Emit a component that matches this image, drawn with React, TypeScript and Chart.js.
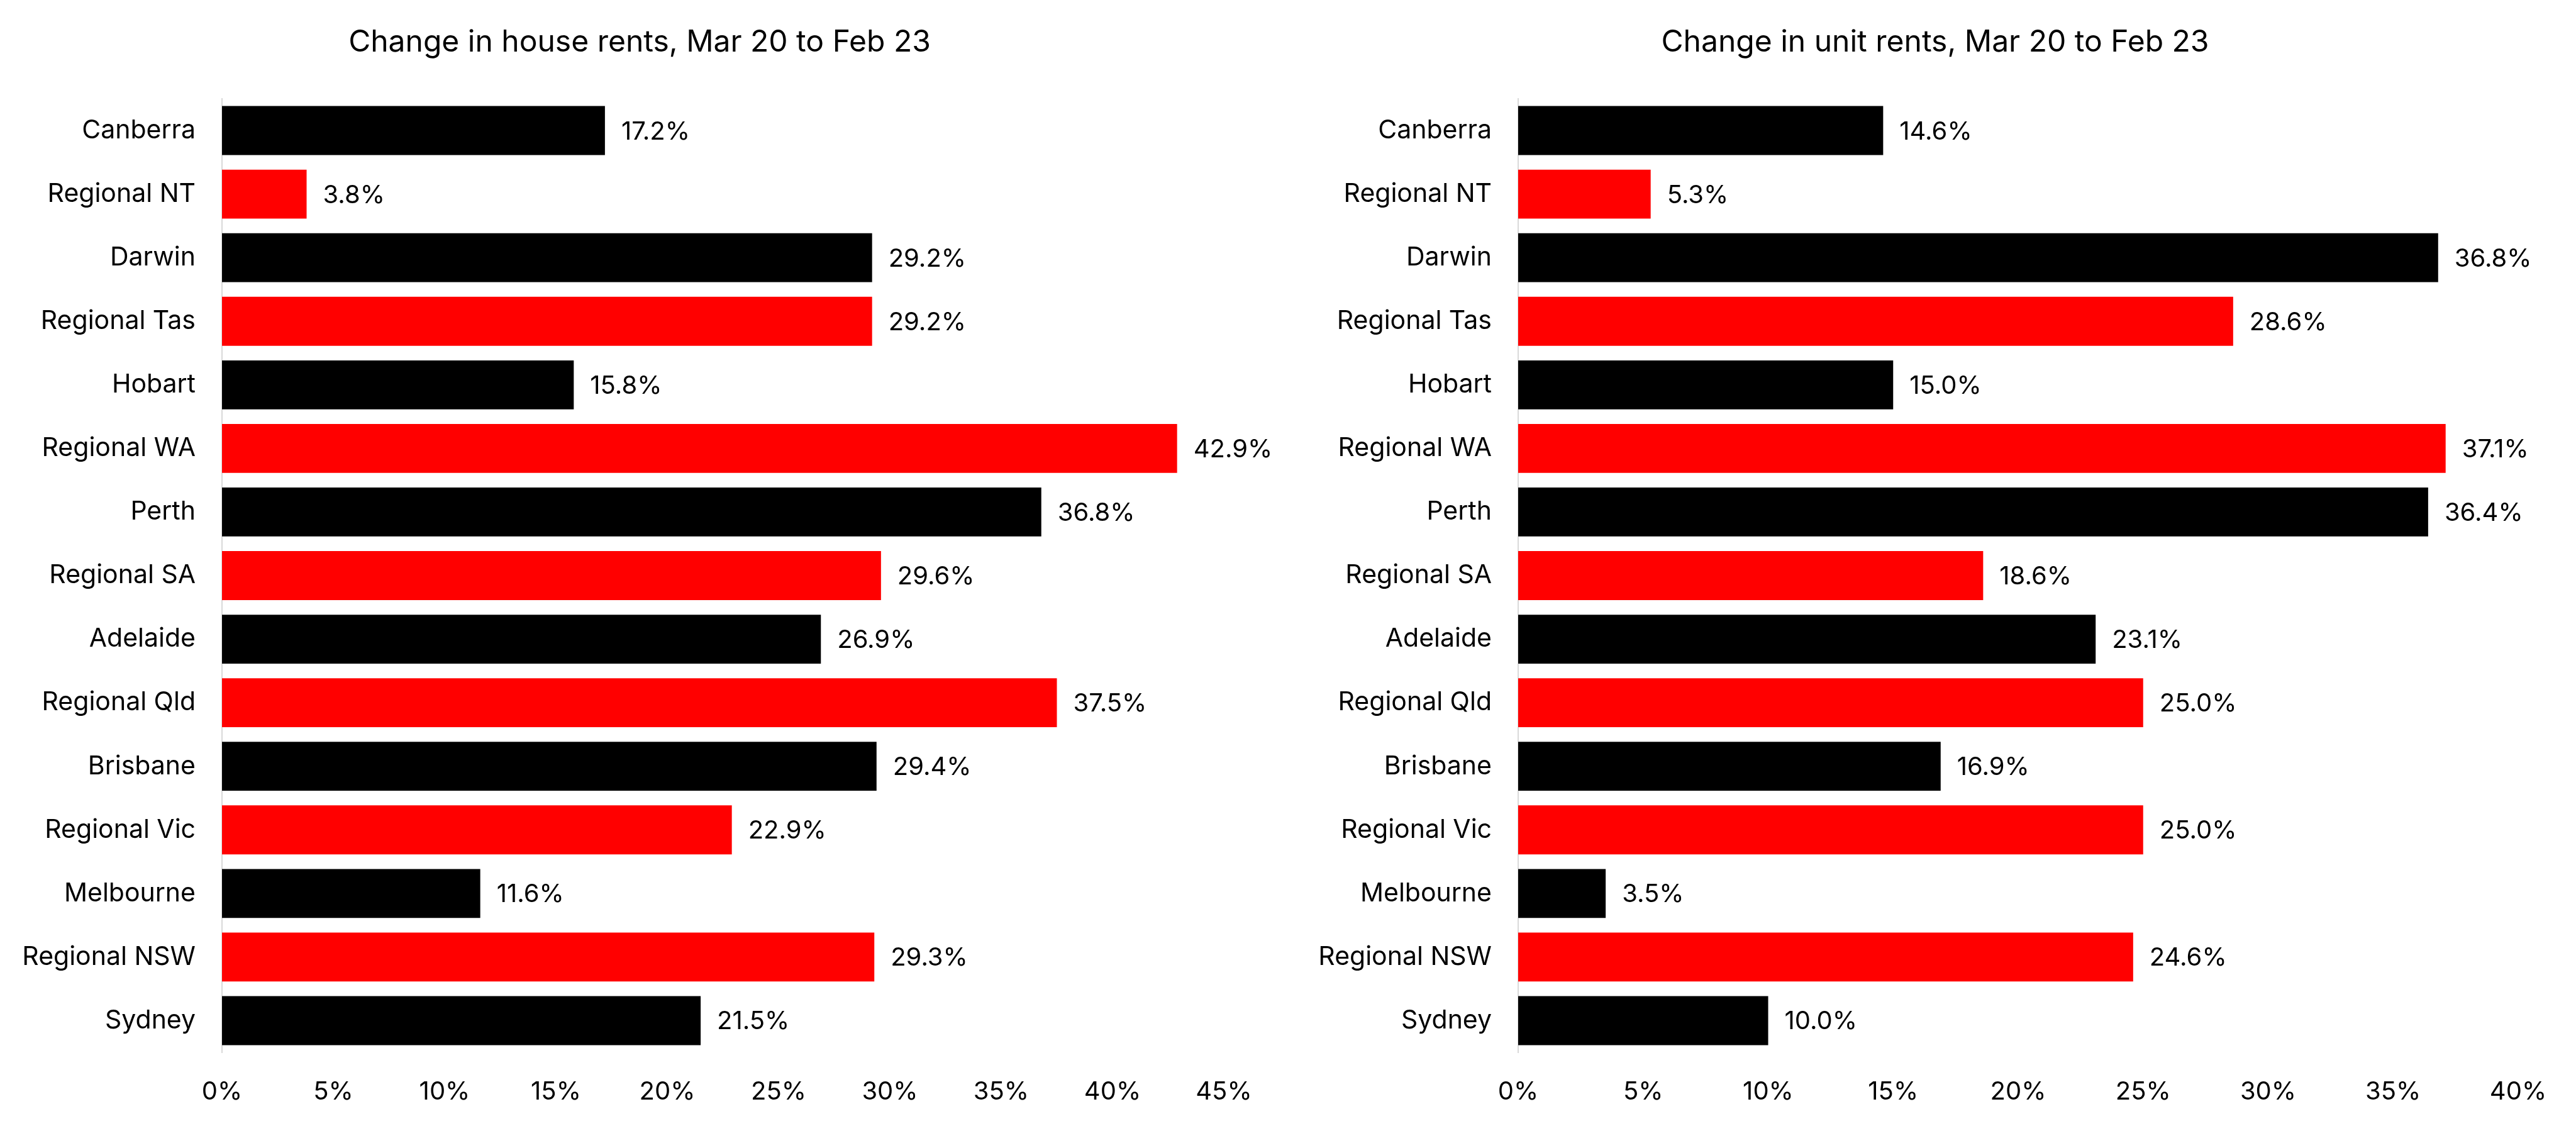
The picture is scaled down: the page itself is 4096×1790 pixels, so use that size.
import React, { useEffect, useRef } from "react";
import { Chart, registerables } from "chart.js";

Chart.register(...registerables);

const categories = [
  "Canberra",
  "Regional NT",
  "Darwin",
  "Regional Tas",
  "Hobart",
  "Regional WA",
  "Perth",
  "Regional SA",
  "Adelaide",
  "Regional Qld",
  "Brisbane",
  "Regional Vic",
  "Melbourne",
  "Regional NSW",
  "Sydney",
];

const houseValues = [17.2, 3.8, 29.2, 29.2, 15.8, 42.9, 36.8, 29.6, 26.9, 37.5, 29.4, 22.9, 11.6, 29.3, 21.5];
const unitValues = [14.6, 5.3, 36.8, 28.6, 15.0, 37.1, 36.4, 18.6, 23.1, 25.0, 16.9, 25.0, 3.5, 24.6, 10.0];

const houseTitle = "Change in house rents, Mar 20 to Feb 23";
const unitTitle = "Change in unit rents, Mar 20 to Feb 23";

const houseMax = 45;
const unitMax = 40;

const FONT = "Inter, 'Noto Sans', sans-serif";

const barColor = (label: string) => (label.startsWith("Regional") ? "#ff0000" : "#000000");

const valueLabelPlugin = {
  id: "valueLabels",
  afterDatasetsDraw(chart: any) {
    const ctx = chart.ctx;
    ctx.save();
    ctx.font = `40px ${FONT}`;
    ctx.fillStyle = "#000";
    ctx.textAlign = "left";
    ctx.textBaseline = "middle";
    chart.data.datasets.forEach((ds: any, di: number) => {
      const meta = chart.getDatasetMeta(di);
      meta.data.forEach((el: any, i: number) => {
        const v = ds.data[i] as number;
        ctx.fillText(`${v.toFixed(1)}%`, el.x + 26, el.y + 2);
      });
    });
    ctx.restore();
  },
};

const titleTextPlugin = {
  id: "titleText",
  afterDraw(chart: any, _args: any, opts: any) {
    const ctx = chart.ctx;
    ctx.save();
    ctx.font = `48px ${FONT}`;
    ctx.fillStyle = "#000";
    ctx.textAlign = "center";
    ctx.textBaseline = "middle";
    ctx.fillText(opts.text, opts.cx, 68);
    ctx.restore();
  },
};

function makeConfig(title: string, titleCx: number, values: number[], max: number, yWidth: number, rightPad: number): any {
  return {
    type: "bar",
    data: {
      labels: categories,
      datasets: [
        {
          data: values,
          backgroundColor: categories.map(barColor),
          borderWidth: 0,
          categoryPercentage: 0.77,
          barPercentage: 1.0,
        },
      ],
    },
    options: {
      indexAxis: "y",
      responsive: false,
      animation: false,
      maintainAspectRatio: false,
      layout: { padding: { left: 0, right: rightPad, top: 157, bottom: 0 } },
      plugins: {
        legend: { display: false },
        tooltip: { enabled: false },
        title: { display: false },
        titleText: { text: title, cx: titleCx },
      },
      scales: {
        x: {
          min: 0,
          max: max,
          grid: { display: false, drawTicks: false },
          border: { display: false },
          ticks: {
            stepSize: 5,
            padding: 39,
            color: "#000",
            font: { family: FONT, size: 40 },
            callback: (v: any) => `${v}%`,
          },
          afterFit: (scale: any) => {
            scale.height = 117;
          },
        },
        y: {
          grid: { display: false, drawTicks: false },
          border: { display: true, color: "#d9d9d9", width: 2 },
          ticks: {
            padding: 42,
            color: "#000",
            font: { family: FONT, size: 41 },
          },
          afterFit: (scale: any) => {
            scale.width = yWidth;
          },
        },
      },
    },
    plugins: [valueLabelPlugin, titleTextPlugin],
  };
}

export default function App() {
  const leftRef = useRef<HTMLCanvasElement>(null);
  const rightRef = useRef<HTMLCanvasElement>(null);

  useEffect(() => {
    document.body.style.margin = "0";
    const c1 = new Chart(leftRef.current!, makeConfig(houseTitle, 1017, houseValues, houseMax, 353, 102));
    const c2 = new Chart(rightRef.current!, makeConfig(unitTitle, 1029, unitValues, unitMax, 366, 92));
    return () => {
      c1.destroy();
      c2.destroy();
    };
  }, []);

  return (
    <div style={{ position: "absolute", left: 0, top: 0, width: 4096, height: 1790, background: "#fff", display: "flex" }}>
      <canvas ref={leftRef} width={2048} height={1790} style={{ width: 2048, height: 1790, display: "block" }} />
      <canvas ref={rightRef} width={2048} height={1790} style={{ width: 2048, height: 1790, display: "block" }} />
    </div>
  );
}
